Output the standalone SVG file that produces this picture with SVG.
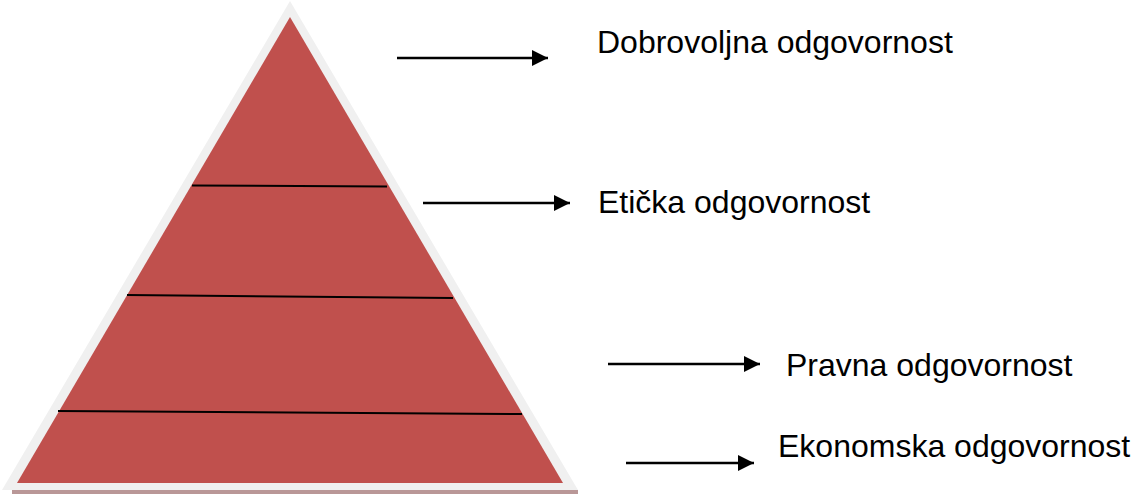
<svg xmlns="http://www.w3.org/2000/svg" width="1144" height="495" viewBox="0 0 1144 495">
<style>
.lbl{font-family:"Liberation Sans",Arial,sans-serif;font-size:32px;fill:#000}
.div{stroke:#000;stroke-width:2;fill:none}
.arr{stroke:#000;stroke-width:2.5;fill:none;marker-end:url(#ah)}
</style>
<defs>
<marker id="ah" markerUnits="userSpaceOnUse" markerWidth="18" markerHeight="18" viewBox="0 0 18 18" refX="16" refY="9" orient="auto">
<path d="M0,1 L16,9 L0,17 Z" fill="#000"/>
</marker>
</defs>
<g id="pyramid">
<rect x="12" y="490" width="566" height="4" fill="#b99797"/>
<polygon points="290,1 2,490 578,490" fill="#f0f0f0"/>
<polygon points="290,17 17,483 563,483" fill="#c0504d"/>
<line class="div" x1="192" y1="185.5" x2="387" y2="186.5"/>
<line class="div" x1="127" y1="295" x2="453" y2="298"/>
<line class="div" x1="58" y1="411" x2="522" y2="414"/>
</g>
<g id="connectors">
<line class="arr" x1="397" y1="58" x2="548" y2="58"/>
<line class="arr" x1="423" y1="203" x2="570" y2="203"/>
<line class="arr" x1="608" y1="364" x2="760" y2="364"/>
<line class="arr" x1="626" y1="463" x2="754" y2="463"/>
</g>
<g id="n1"><text class="lbl" x="597" y="53">Dobrovoljna odgovornost</text></g>
<g id="n2"><text class="lbl" x="598" y="213">Etička odgovornost</text></g>
<g id="n3"><text class="lbl" x="786" y="376">Pravna odgovornost</text></g>
<g id="n4"><text class="lbl" x="778" y="457">Ekonomska odgovornost</text></g>
</svg>
